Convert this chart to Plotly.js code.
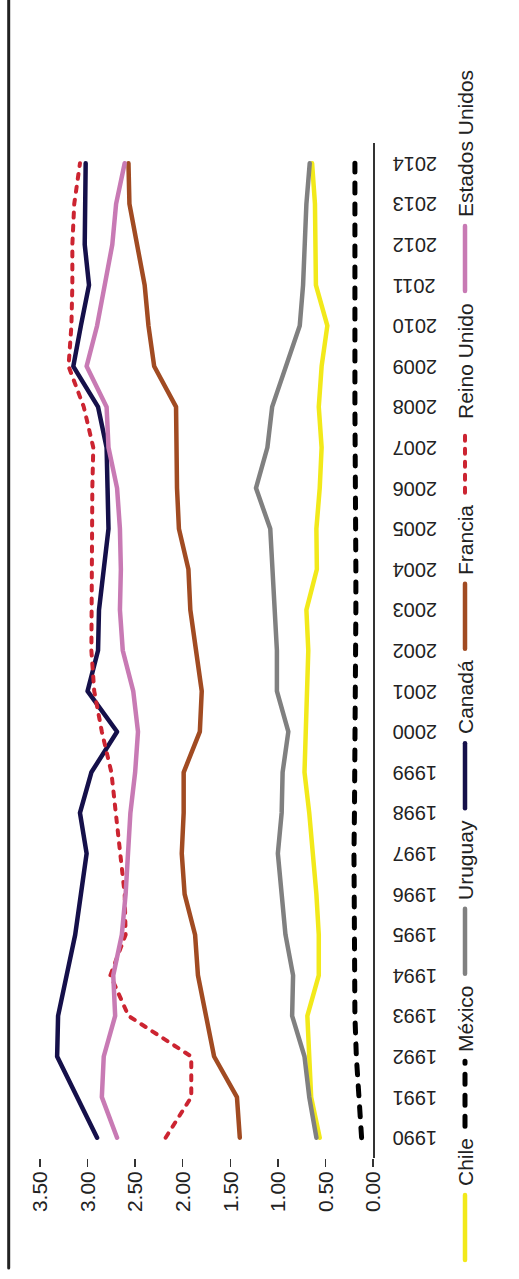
<!DOCTYPE html>
<html>
<head>
<meta charset="utf-8">
<script src="https://cdn.plot.ly/plotly-3.0.1.min.js"></script>
<style>
  html, body { margin: 0; padding: 0; background: #fff; }
  #frame { position: relative; width: 519px; height: 1279px; overflow: hidden; background: #fff; }
  #chart { position: absolute; left: 0; top: 0; width: 1279px; height: 519px;
           transform-origin: 0 0; transform: translate(0px, 1279px) rotate(-90deg); }
  #chart .scatterlayer path.js-line { stroke-linecap: round !important; stroke-linejoin: round !important; }
  #chart .shapelayer path { stroke-linecap: round !important; }
</style>
</head>
<body>
<div id="frame"><div id="chart"></div></div>
<script>
// ---------- data ----------
const years = [1990, 1991, 1992, 1993, 1994, 1995, 1996, 1997, 1998, 1999, 2000, 2001, 2002,
               2003, 2004, 2005, 2006, 2007, 2008, 2009, 2010, 2011, 2012, 2013, 2014];

const chile   = [0.56, 0.65, 0.67, 0.69, 0.57, 0.57, 0.595, 0.63, 0.67, 0.72, 0.71, 0.70, 0.68,
                 0.70, 0.59, 0.595, 0.56, 0.54, 0.57, 0.54, 0.48, 0.60, 0.60, 0.61, 0.64];
const mexico  = [0.12, 0.15, 0.175, 0.19, 0.195, 0.20, 0.20, 0.20, 0.195, 0.19, 0.185, 0.18, 0.18,
                 0.18, 0.18, 0.185, 0.185, 0.19, 0.19, 0.19, 0.19, 0.19, 0.19, 0.19, 0.19];
const uruguay = [0.595, 0.67, 0.72, 0.85, 0.84, 0.92, 0.96, 1.00, 0.96, 0.95, 0.89, 1.01, 1.01,
                 1.03, 1.06, 1.08, 1.23, 1.11, 1.06, 0.91, 0.77, 0.735, 0.717, 0.70, 0.665];
const canada  = [2.90, 3.11, 3.32, 3.31, 3.22, 3.13, 3.07, 3.01, 3.08, 2.96, 2.69, 3.00, 2.89,
                 2.88, 2.83, 2.78, 2.79, 2.80, 2.89, 3.15, 3.07, 2.985, 3.03, 3.02, 3.02];
const francia = [1.40, 1.43, 1.67, 1.76, 1.84, 1.87, 1.98, 2.01, 1.99, 1.99, 1.82, 1.80, 1.86,
                 1.92, 1.94, 2.04, 2.06, 2.06, 2.07, 2.30, 2.36, 2.40, 2.48, 2.56, 2.57];
const reinoUnido = [2.18, 1.91, 1.91, 2.57, 2.76, 2.60, 2.61, 2.66, 2.71, 2.75, 2.85, 2.93, 2.96,
                    2.96, 2.96, 2.95, 2.95, 2.94, 3.04, 3.20, 3.17, 3.16, 3.16, 3.14, 3.08];
const estadosUnidos = [2.69, 2.85, 2.83, 2.71, 2.73, 2.64, 2.60, 2.58, 2.55, 2.50, 2.47, 2.52, 2.63,
                       2.66, 2.65, 2.66, 2.69, 2.78, 2.80, 3.01, 2.90, 2.82, 2.74, 2.70, 2.61];

const seriesNames = ['Chile', 'México', 'Uruguay', 'Canadá', 'Francia', 'Reino Unido', 'Estados Unidos'];
const seriesValues = [chile, mexico, uruguay, canada, francia, reinoUnido, estadosUnidos];

const yTickVals = [0, 0.5, 1, 1.5, 2, 2.5, 3, 3.5];

// ---------- styles ----------
const seriesStyles = [
  {color: '#f2e91a', width: 4.5, dash: 'solid'},
  {color: '#000000', width: 5,   dash: '10px,11px'},
  {color: '#808080', width: 4.5, dash: 'solid'},
  {color: '#15104a', width: 4.5, dash: 'solid'},
  {color: '#a14b22', width: 4.5, dash: 'solid'},
  {color: '#cc2431', width: 4,   dash: '5px,8px'},
  {color: '#c87ab4', width: 4.5, dash: 'solid'}
];

const W = 1279, H = 519;
const M = {l: 121, r: 143, t: 40, b: 146};
const PW = W - M.l - M.r, PH = H - M.t - M.b;
const FONT = '"Liberation Sans", Arial, Helvetica, sans-serif';
const px2x = p => (p - M.l) / PW;
const px2y = p => (H - M.b - p) / PH;

const traces = seriesNames.map((name, i) => ({
  type: 'scatter', mode: 'lines', name: name,
  x: years, y: seriesValues[i],
  line: {color: seriesStyles[i].color, width: seriesStyles[i].width, dash: seriesStyles[i].dash},
  showlegend: false, hoverinfo: 'skip'
}));

// custom legend (line sample + label) laid out left to right
const legend = {startX: 19, yPx: 465, lineLen: 65, textGap: 7, itemGap: 14, fontSize: 21};
const cv = document.createElement('canvas').getContext('2d');
cv.font = legend.fontSize + 'px "Liberation Sans", Arial, sans-serif';
const shapes = [];
const annotations = [];
let cx = legend.startX;
seriesNames.forEach((name, i) => {
  shapes.push({type: 'line', xref: 'paper', yref: 'paper',
    x0: px2x(cx), x1: px2x(cx + legend.lineLen), y0: px2y(legend.yPx), y1: px2y(legend.yPx),
    line: {color: seriesStyles[i].color, width: seriesStyles[i].width, dash: seriesStyles[i].dash}});
  const tx = cx + legend.lineLen + legend.textGap;
  annotations.push({xref: 'paper', yref: 'paper', x: px2x(tx), y: px2y(legend.yPx),
    xanchor: 'left', yanchor: 'middle', showarrow: false, text: name,
    font: {family: FONT, size: legend.fontSize, color: '#222'}});
  cx = tx + cv.measureText(name).width + legend.itemGap;
});

// heavy rule at the top edge
shapes.push({type: 'line', xref: 'paper', yref: 'paper',
  x0: px2x(11), x1: px2x(W), y0: px2y(8.7), y1: px2y(8.7),
  line: {color: '#222', width: 3}});

const layout = {
  width: W, height: H,
  margin: M,
  paper_bgcolor: '#fff', plot_bgcolor: '#fff',
  showlegend: false,
  font: {family: FONT, color: '#222'},
  xaxis: {
    type: 'linear', range: [1989.5, 2014.5], tickmode: 'array', tickvals: years,
    ticktext: years.map(String), tickangle: -90,
    showline: true, linecolor: '#333', linewidth: 1.5, ticks: '',
    showgrid: false, zeroline: false, ticklabelstandoff: 10,
    tickfont: {family: FONT, size: 20, color: '#222'}
  },
  yaxis: {
    range: [0, 3.5], tickmode: 'array', tickvals: yTickVals,
    ticktext: yTickVals.map(v => v.toFixed(2)),
    showline: false, showgrid: false, zeroline: false,
    ticks: 'outside', ticklen: 8, tickwidth: 1.5, tickcolor: '#333',
    tickfont: {family: FONT, size: 21, color: '#222'}
  },
  shapes: shapes,
  annotations: annotations
};

Plotly.newPlot('chart', traces, layout, {staticPlot: true, displayModeBar: false, responsive: false});
</script>
</body>
</html>
